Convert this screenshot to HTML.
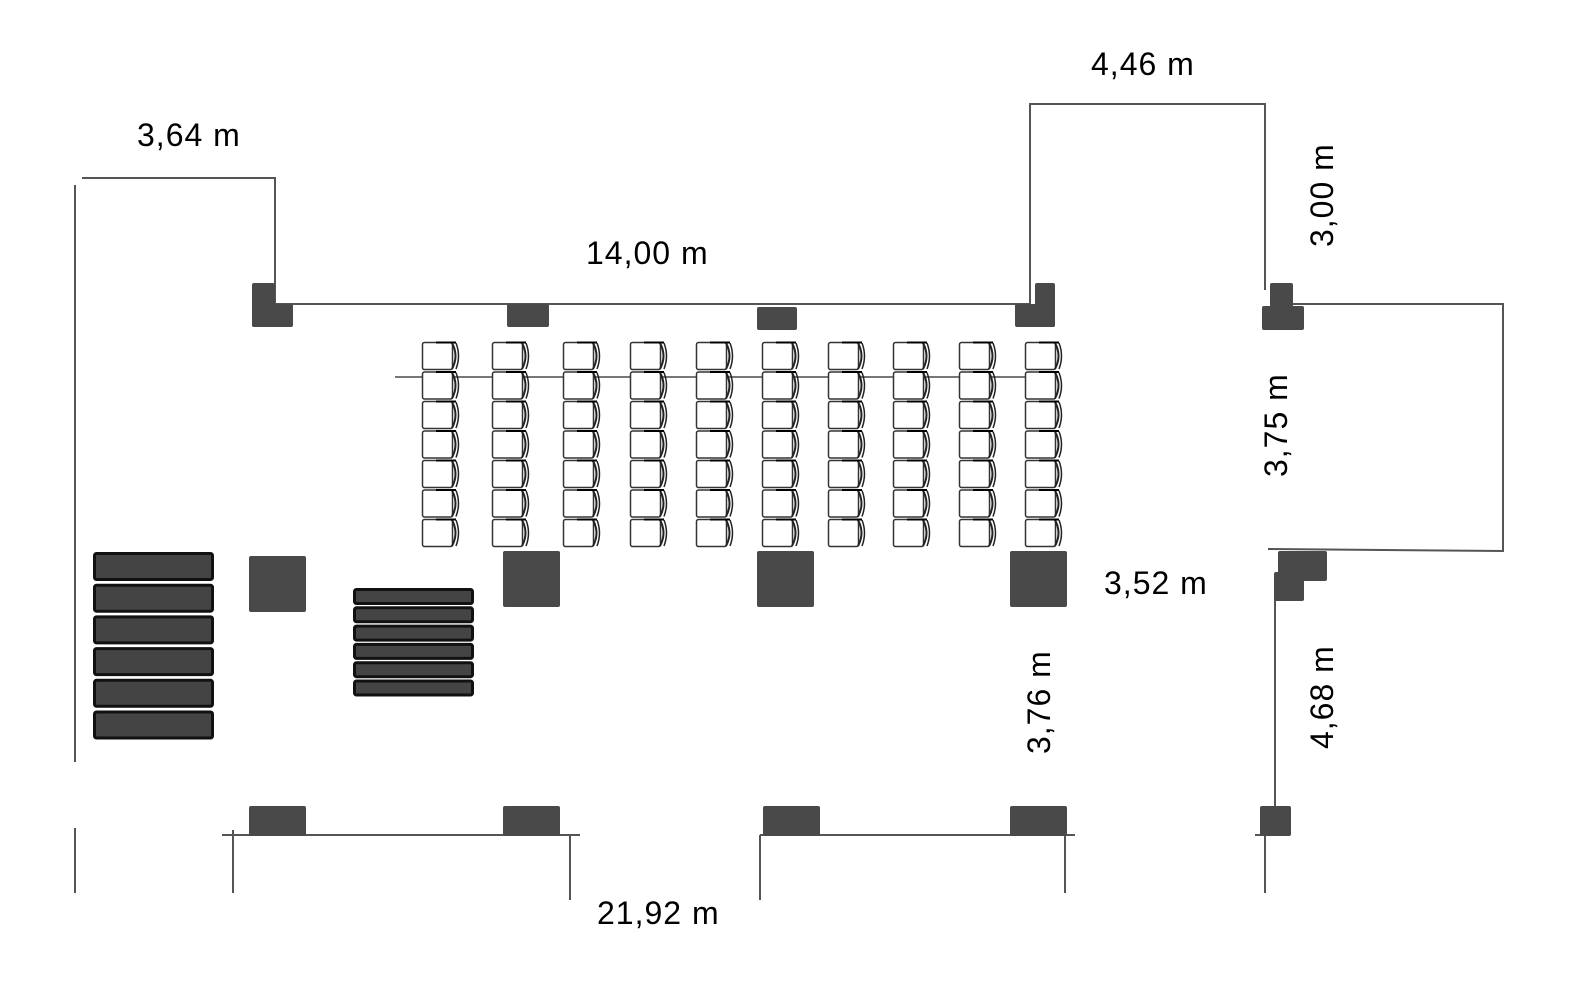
<!DOCTYPE html>
<html><head><meta charset="utf-8"><style>
html,body{margin:0;padding:0;background:#fff;}
svg{display:block;}
text{font-family:"Liberation Sans",sans-serif;font-size:32px;letter-spacing:1px;fill:#000;}
</style></head><body>
<svg width="1571" height="991" viewBox="0 0 1571 991" xmlns="http://www.w3.org/2000/svg">
<defs>
<g id="ch">
<rect x="0.5" y="0.5" width="30" height="27" rx="2" fill="#fff" stroke="#333" stroke-width="1.5"/>
<path d="M30,1 q7,13 0,26" fill="none" stroke="#222" stroke-width="2"/>
<path d="M34,1 q5,13 0,26" fill="none" stroke="#222" stroke-width="1.5"/>
<line x1="14" y1="0.5" x2="34" y2="0.5" stroke="#000" stroke-width="2"/>
</g>
<g id="col">
<use href="#ch" y="0"/><use href="#ch" y="29.5"/><use href="#ch" y="59"/><use href="#ch" y="88.5"/><use href="#ch" y="118"/><use href="#ch" y="147.5"/><use href="#ch" y="177"/>
</g>
</defs>
<g stroke="#555" stroke-width="2" fill="none">
<polyline points="82,178 275,178 275,304 1030,304 1030,104 1265,104 1265,290"/>
<line x1="75" y1="185" x2="75" y2="762"/>
<line x1="1030" y1="104" x2="1030" y2="290"/>
<polyline points="1290,304 1503,304 1503,551 1268,549"/>
<line x1="1275" y1="600" x2="1275" y2="810"/>
<line x1="222" y1="835" x2="580" y2="835"/>
<line x1="760" y1="835" x2="1075" y2="835"/>
<line x1="1255" y1="835" x2="1275" y2="835"/>
<line x1="75" y1="828" x2="75" y2="893"/>
<line x1="233" y1="830" x2="233" y2="893"/>
<line x1="570" y1="835" x2="570" y2="900"/>
<line x1="760" y1="835" x2="760" y2="900"/>
<line x1="1065" y1="835" x2="1065" y2="893"/>
<line x1="1265" y1="835" x2="1265" y2="893"/>
<line x1="395" y1="377" x2="1040" y2="377" stroke="#777"/>
</g>
<g>
<use href="#col" x="422" y="342"/><use href="#col" x="492" y="342"/><use href="#col" x="563" y="342"/><use href="#col" x="630" y="342"/><use href="#col" x="696" y="342"/><use href="#col" x="762" y="342"/><use href="#col" x="828" y="342"/><use href="#col" x="893" y="342"/><use href="#col" x="959" y="342"/><use href="#col" x="1025" y="342"/>
</g>
<g fill="#494949">
<rect x="252" y="283" width="23" height="44" rx="2"/><rect x="252" y="304" width="41" height="23" rx="2"/>
<rect x="507" y="304" width="42" height="23" rx="2"/>
<rect x="757" y="307" width="40" height="23" rx="2"/>
<rect x="1035" y="283" width="20" height="44" rx="2"/><rect x="1015" y="304" width="40" height="23" rx="2"/>
<rect x="1270" y="283" width="23" height="24" rx="2"/><rect x="1262" y="306" width="42" height="24" rx="2"/>
<rect x="1278" y="551" width="49" height="30" rx="2"/><rect x="1274" y="572" width="30" height="29" rx="2"/>
<rect x="249" y="556" width="57" height="56" rx="2"/>
<rect x="503" y="551" width="57" height="56" rx="2"/>
<rect x="757" y="551" width="57" height="56" rx="2"/>
<rect x="1010" y="551" width="57" height="56" rx="2"/>
<rect x="249" y="806" width="57" height="30" rx="2"/>
<rect x="503" y="806" width="57" height="30" rx="2"/>
<rect x="763" y="806" width="57" height="30" rx="2"/>
<rect x="1010" y="806" width="57" height="30" rx="2"/>
<rect x="1260" y="806" width="31" height="30" rx="2"/>
</g>
<g fill="#444" stroke="#111" stroke-width="3">
<rect x="94.5" y="553.5" width="118" height="26" rx="2"/>
<rect x="94.5" y="585.2" width="118" height="26" rx="2"/>
<rect x="94.5" y="616.9" width="118" height="26" rx="2"/>
<rect x="94.5" y="648.6" width="118" height="26" rx="2"/>
<rect x="94.5" y="680.3" width="118" height="26" rx="2"/>
<rect x="94.5" y="712" width="118" height="26" rx="2"/>
<rect x="354.5" y="589.5" width="118" height="14" rx="2"/>
<rect x="354.5" y="607.8" width="118" height="14" rx="2"/>
<rect x="354.5" y="626.1" width="118" height="14" rx="2"/>
<rect x="354.5" y="644.4" width="118" height="14" rx="2"/>
<rect x="354.5" y="662.7" width="118" height="14" rx="2"/>
<rect x="354.5" y="681" width="118" height="14" rx="2"/>
</g>
<text x="137" y="146">3,64 m</text>
<text x="1091" y="75">4,46 m</text>
<text x="586" y="264">14,00 m</text>
<text x="1104" y="594">3,52 m</text>
<text x="597" y="924">21,92 m</text>
<text transform="translate(1333,247) rotate(-90)">3,00 m</text>
<text transform="translate(1287,477) rotate(-90)">3,75 m</text>
<text transform="translate(1050,754) rotate(-90)">3,76 m</text>
<text transform="translate(1333,749) rotate(-90)">4,68 m</text>
</svg>
</body></html>
